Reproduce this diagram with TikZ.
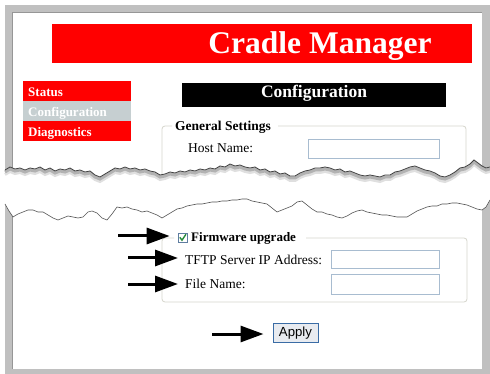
\documentclass[tikz,border=0pt]{standalone}
\usepackage{fontspec}
\setmainfont{Liberation Serif}
\newfontfamily\btnfont{Liberation Sans}
\usetikzlibrary{arrows.meta}
\definecolor{framegray}{RGB}{192,192,192}
\definecolor{edgegray}{RGB}{150,150,150}
\definecolor{menugray}{RGB}{198,207,209}
\definecolor{boxblue}{RGB}{168,188,208}
\definecolor{setline}{RGB}{214,214,204}
\definecolor{btnblue}{RGB}{58,108,165}
\definecolor{btnfill}{RGB}{232,235,240}
\definecolor{chkblue}{RGB}{95,125,160}
\definecolor{checkgreen}{RGB}{40,140,60}
\tikzset{
  menuitem/.style={anchor=north west, minimum width=108pt, minimum height=20pt,
    text width=98pt, inner xsep=5pt, inner ysep=0pt, text height=10pt, text depth=0pt,
    align=left, text=white, font=\bfseries\fontsize{13}{15}\selectfont},
  formlabel/.style={anchor=base west, inner sep=0pt, font=\fontsize{13.5}{16}\selectfont},
  legendlabel/.style={anchor=base west, inner sep=0pt, font=\bfseries\fontsize{13.5}{16}\selectfont},
  inputbox/.style={draw=boxblue, fill=white, line width=0.8pt, inner sep=0pt},
  fieldset/.style={draw=setline, line width=0.8pt, rounded corners=3pt},
  pointer/.style={line width=3pt, -{Triangle[length=23pt,width=16pt]}},
}
\def\toptear{(5,170) -- (10,167) -- (15,169) -- (20,168) -- (25,170) -- (30,168) -- (35,169)
  -- (40,167) -- (45,170) -- (50,168) -- (55,171) -- (60,169) -- (65,170) -- (70,168)
  -- (75,171) -- (80,170) -- (85,172) -- (90,171) -- (95,175) -- (100,177) -- (105,174)
  -- (110,171) -- (115,168) -- (120,169) -- (125,167) -- (130,169) -- (135,168) -- (140,170)
  -- (145,169) -- (150,171) -- (155,172) -- (160,175) -- (165,174) -- (170,172) -- (175,173)
  -- (180,171) -- (185,172) -- (190,170) -- (195,171) -- (200,169) -- (205,170) -- (210,168)
  -- (215,169) -- (220,166) -- (225,167) -- (230,164) -- (235,166) -- (240,165) -- (245,167)
  -- (250,168) -- (255,167) -- (260,170) -- (265,169) -- (270,172) -- (275,171) -- (280,174)
  -- (285,173) -- (290,176) -- (295,176) -- (300,173) -- (305,171) -- (310,170) -- (315,168)
  -- (320,168) -- (325,167) -- (330,168) -- (335,170) -- (340,169) -- (345,172) -- (350,171)
  -- (355,173) -- (360,175) -- (365,176) -- (370,175) -- (375,176) -- (380,177) -- (385,175)
  -- (390,175) -- (395,172) -- (400,171) -- (405,169) -- (410,167) -- (415,166) -- (420,168)
  -- (425,170) -- (430,171) -- (435,173) -- (440,176) -- (445,177) -- (450,175) -- (455,172)
  -- (460,168) -- (465,167) -- (470,164) -- (474,160) -- (478,163) -- (482,166) -- (486,168)
  -- (490,167)}
\def\bottomtear{(5,204) -- (9,211) -- (13,217) -- (18,214) -- (23,212) -- (28,210) -- (33,210)
  -- (38,212) -- (43,212) -- (48,215) -- (53,218) -- (58,220) -- (63,218) -- (68,216)
  -- (73,217) -- (78,218) -- (83,217) -- (88,212) -- (92,211) -- (97,213) -- (102,218)
  -- (107,220) -- (112,214) -- (117,207) -- (122,208) -- (127,207) -- (132,209) -- (137,210)
  -- (142,212) -- (147,211) -- (152,213) -- (157,215) -- (162,218) -- (167,215) -- (172,212)
  -- (177,209) -- (182,208) -- (187,206) -- (192,205) -- (197,204) -- (202,204) -- (207,203)
  -- (212,202) -- (217,202) -- (222,201) -- (227,201) -- (232,200) -- (237,200) -- (242,199)
  -- (247,199) -- (252,201) -- (257,202) -- (262,203) -- (267,204) -- (272,208) -- (277,212)
  -- (282,210) -- (287,208) -- (292,206) -- (297,202) -- (302,201) -- (307,205) -- (312,209)
  -- (317,212) -- (322,212) -- (327,214) -- (332,215) -- (337,217) -- (342,218) -- (347,216)
  -- (352,213) -- (357,211) -- (362,210) -- (367,212) -- (372,213) -- (377,214) -- (382,215)
  -- (387,215) -- (392,216) -- (397,217) -- (402,217) -- (407,217) -- (412,214) -- (417,211)
  -- (422,209) -- (427,207) -- (432,206) -- (437,206) -- (442,204) -- (447,204) -- (452,203)
  -- (457,203) -- (462,204) -- (467,205) -- (472,207) -- (477,209) -- (482,210) -- (486,207)
  -- (490,200)}

\begin{document}
\begin{tikzpicture}[x=1pt, y=-1pt]
\useasboundingbox (0,0) rectangle (490,374);

\begin{scope}
\clip \toptear -- (495,167) -- (495,-5) -- (-5,-5) -- (-5,170) -- cycle;
\fill[framegray] (5,5) rectangle (495,260);
\fill[white] (12,12) rectangle (482,260);
\draw[edgegray] (12,260) -- (12,12) -- (482,12);

\node[fill=red, minimum width=420pt, minimum height=39pt, inner sep=0pt] (banner) at (262,43.5) {};
\node[anchor=base, inner sep=0pt, text=white, font=\bfseries\fontsize{31.5}{36}\selectfont] (title) at (320,54) {Cradle Manager};

\node[menuitem, fill=red] (status) at (23,81) {Status};
\node[menuitem, fill=menugray] (config) at (23,101) {Configuration};
\node[menuitem, fill=red] (diag) at (23,121) {Diagnostics};

\node[fill=black, minimum width=264pt, minimum height=24pt, inner sep=0pt, text height=11.5pt, text depth=6pt,
  text=white, font=\bfseries\fontsize{17.5}{20}\selectfont] (cfgbar) at (314,95) {Configuration};

\draw[fieldset] (172,126) -- (162,126) -- (162,200);
\draw[fieldset] (278,126) -- (466,126) -- (466,200);
\node[legendlabel] (general) at (175,131) {General Settings};
\node[formlabel] (host) at (188,153) {Host Name:};
\node[inputbox, minimum width=131pt, minimum height=19pt] (hostbox) at (373.5,148.5) {};
\end{scope}

\draw[gray!25, line width=3pt, yshift=-4.5pt] \toptear;
\draw[gray!60, line width=3pt, yshift=-2pt] \toptear;
\draw[black!75, line width=0.8pt] \toptear;

\begin{scope}
\clip \bottomtear -- (495,200) -- (495,380) -- (-5,380) -- (-5,204) -- cycle;
\fill[framegray] (5,150) rectangle (490,374);
\fill[white] (12,150) rectangle (482,369);
\draw[edgegray] (12,150) -- (12,369);

\draw[fieldset] (174,238) -- (162,238) -- (162,302) -- (467,302) -- (467,238) -- (306,238);
\node[draw=chkblue, fill=white, line width=0.7pt, minimum size=9pt, inner sep=0pt] (chk) at (182.5,237.5) {};
\draw[checkgreen, line width=1.4pt] (179.8,237.3) -- (182,240.2) -- (186,234.2);
\node[legendlabel, font=\bfseries\fontsize{13}{16}\selectfont] (fw) at (191,241) {Firmware upgrade};
\node[formlabel] (tftp) at (185,264.3) {TFTP Server IP Address:};
\node[inputbox, minimum width=108pt, minimum height=18pt] (tftpbox) at (385,259) {};
\node[formlabel] (file) at (185,288.3) {File Name:};
\node[inputbox, minimum width=108pt, minimum height=20pt] (filebox) at (385,284) {};

\node[draw=btnblue, fill=btnfill, line width=1pt, minimum width=45pt, minimum height=19pt, inner sep=0pt,
  text height=9.5pt, text depth=1.5pt, font=\btnfont\fontsize{13.2}{15}\selectfont] (apply) at (295.5,332.7) {Apply};

\coordinate (fwtail) at (118,236);
\coordinate (tftptail) at (128,258);
\coordinate (filetail) at (128,284);
\coordinate (applytail) at (212,334);
\draw[pointer, shorten >=8pt] (fwtail) -- (fwtail -| chk.west);
\draw[pointer, shorten >=7pt] (tftptail) -- (tftptail -| tftp.west);
\draw[pointer, shorten >=7pt] (filetail) -- (filetail -| file.west);
\draw[pointer, shorten >=9pt] (applytail) -- (applytail -| apply.west);
\end{scope}

\draw[black!65, line width=0.6pt] \bottomtear;
\end{tikzpicture}
\end{document}
